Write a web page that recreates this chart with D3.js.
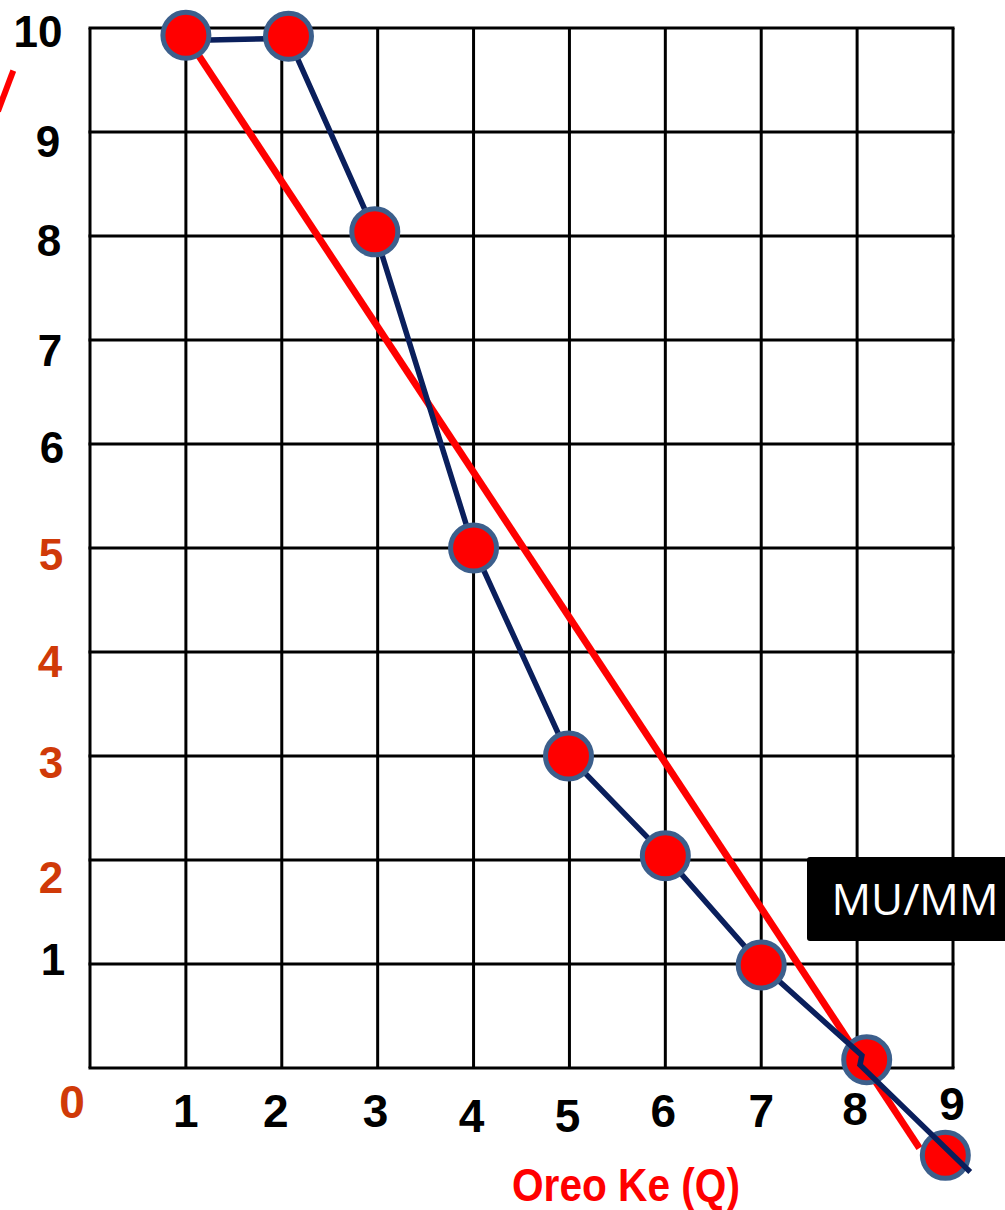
<!DOCTYPE html>
<html><head><meta charset="utf-8">
<script src="https://cdn.jsdelivr.net/npm/d3@7"></script>
<style>html,body{margin:0;padding:0;background:#fff;overflow:hidden}</style>
</head><body>
<script>
// ---- data ----
const xTicks = [0,1,2,3,4,5,6,7,8,9];
const yTicks = [0,1,2,3,4,5,6,7,8,9,10];
const xLabels = ["0","1","2","3","4","5","6","7","8","9"];
const yLabels = ["1","2","3","4","5","6","7","8","9","10"];
const yLabelColored = ["5","4","3","2"];
// blue MU line vertices (Q, MU)
const muLine = [[1.0,9.88],[2.07,9.9],[2.97,8.04],[4.0,5.0],[4.99,3.0],[6.0,2.04],[7.0,0.99],[8.05,0.12],[8.03,0.03],[9.18,-1.0]];
// markers (Q, MU)
const muPoints = [[1.0,9.93],[2.07,9.92],[2.97,8.04],[4.0,5.0],[4.99,3.0],[6.0,2.04],[7.0,0.99],[8.1,0.08],[8.92,-0.84]];
// red straight line
const redLine = [[1.13,9.74],[8.65,-0.77]];
const redFragment = [[-0.80,9.59],[-0.96,9.2]];

const W = 1005, H = 1210;
const svg = d3.select("body").append("svg").attr("width", W).attr("height", H);
const x = d3.scaleLinear().domain([0,9]).range([90,953]);
const y = d3.scaleLinear().domain([0,10]).range([1068,28]);

// grid
const g = svg.append("g");
g.selectAll("line.v").data(xTicks).join("line")
  .attr("x1", d=>x(d)).attr("x2", d=>x(d)).attr("y1", y(10)).attr("y2", y(0))
  .attr("stroke","#000").attr("stroke-width",3);
g.selectAll("line.h").data(yTicks).join("line").attr("class","h")
  .attr("x1", x(0)-1.5).attr("x2", x(9)+1.5).attr("y1", d=>y(d)).attr("y2", d=>y(d))
  .attr("stroke","#000").attr("stroke-width",3);

// y labels (manually offset positions as in reference)
const yLabelPos = {"10":[38,47],"9":[48,157],"8":[49,256],"7":[50,366],"6":[52,463],"5":[51,570],"4":[50,677],"3":[51,778],"2":[51,893],"1":[53,975]};
svg.selectAll("text.yl").data(yLabels).join("text")
  .attr("x", d=>yLabelPos[d][0]).attr("y", d=>yLabelPos[d][1])
  .attr("text-anchor","middle")
  .attr("font-family","'Liberation Sans', Arial, sans-serif").attr("font-weight","bold")
  .attr("font-size",44)
  .attr("fill", d=> yLabelColored.includes(d) ? "#d03a08" : "#000")
  .text(d=>d);

// x labels
const xLabelDy = [1118,1127,1127,1127,1132,1132,1127,1127,1125,1120];
const xLabelDx = [-18,0,-6,-2,-2,-2,-2,0,-2,-1];
svg.selectAll("text.xl").data(xLabels).join("text")
  .attr("x", (d,i)=>x(xTicks[i]) + xLabelDx[i]).attr("y", (d,i)=>xLabelDy[i])
  .attr("text-anchor","middle")
  .attr("font-family","'Liberation Sans', Arial, sans-serif")
  .attr("font-weight","bold")
  .attr("font-size",46)
  .attr("fill", (d,i)=> i===0 ? "#d03a08" : "#000")
  .text(d=>d);

// axis title
svg.append("text").attr("x", 512).attr("y", 1201)
  .attr("font-family","'Liberation Sans', Arial, sans-serif")
  .attr("font-weight","bold").attr("font-size",47).attr("fill","#ff0000")
  .attr("textLength",228).attr("lengthAdjust","spacingAndGlyphs")
  .text("Oreo Ke (Q)");

const line = d3.line().x(d=>x(d[0])).y(d=>y(d[1]));

// red lines
svg.append("path").attr("d", line(redLine)).attr("fill","none")
  .attr("stroke","#ff0000").attr("stroke-width",7);
svg.append("path").attr("d", line(redFragment)).attr("fill","none")
  .attr("stroke","#ff0000").attr("stroke-width",6);

// markers behind the blue line (last two)
const drawMarkers = pts => svg.append("g").selectAll("circle").data(pts).join("circle")
  .attr("cx", d=>x(d[0])).attr("cy", d=>y(d[1])).attr("r", 23)
  .attr("fill","#ff0000").attr("stroke","#3c5f8c").attr("stroke-width",5);
drawMarkers(muPoints.slice(7));

// blue line
svg.append("path").attr("d", line(muLine)).attr("fill","none")
  .attr("stroke","#0a1f5c").attr("stroke-width",5.5).attr("stroke-linejoin","miter");

drawMarkers(muPoints.slice(0,7));

// MU/MM label box
svg.append("rect").attr("x", 807).attr("y", 857).attr("width", 205).attr("height", 84)
  .attr("rx",3).attr("fill","#000");
svg.append("text").attr("x", 915).attr("y", 915).attr("text-anchor","middle")
  .attr("font-family","'Open Sans', sans-serif").attr("font-size",44).attr("fill","#fff")
  .text("MU/MM");
</script>
</body></html>
